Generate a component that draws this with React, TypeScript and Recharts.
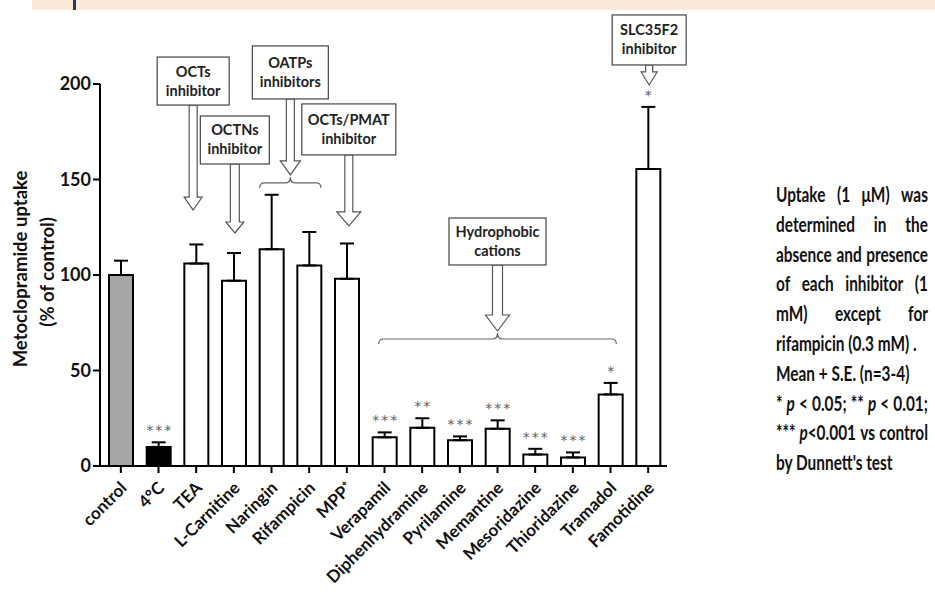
import type { ReactNode } from "react";
import { BarChart, Bar, XAxis, YAxis, ErrorBar, LabelList, Cell, ReferenceArea } from "recharts";

const categories = [
  "control",
  "4°C",
  "TEA",
  "L-Carnitine",
  "Naringin",
  "Rifampicin",
  "MPP⁺",
  "Verapamil",
  "Diphenhydramine",
  "Pyrilamine",
  "Memantine",
  "Mesoridazine",
  "Thioridazine",
  "Tramadol",
  "Famotidine",
];
const uptake = [100, 10, 106, 97, 113.5, 105, 98, 15, 20, 13.5, 19.5, 6, 4.5, 37.5, 155.5];
const sem = [7.5, 2.4, 10, 14.5, 28.5, 17.5, 18.5, 2.6, 5, 2, 4.4, 3, 2.6, 6, 32.5];
const significance = ["", "***", "", "", "", "", "", "***", "**", "***", "***", "***", "***", "*", "*"];
const yTicks = [0, 50, 100, 150, 200];

const data = categories.map((name, i) => ({
  name,
  uptake: uptake[i],
  err: [0, sem[i]],
  sig: significance[i],
}));

const FONT = "Lato, 'Open Sans', sans-serif";

type Note = {
  x1: string;
  x2: string;
  at: number;
  brace?: number; // inset of the brace ends, if there is one
  dx: number;
  boxW: number;
  boxH: number;
  len: number;
  hw: number;
  hh: number;
  sw: number;
  lines: string[];
};

const notes: Note[] = [
  { x1: "TEA", x2: "TEA", at: 134, dx: -3, boxW: 72, boxH: 48, len: 105, hw: 9, hh: 13, sw: 4, lines: ["OCTs", "inhibitor"] },
  { x1: "L-Carnitine", x2: "L-Carnitine", at: 122, dx: 1, boxW: 69, boxH: 48, len: 69, hw: 9, hh: 11, sw: 4.5, lines: ["OCTNs", "inhibitor"] },
  { x1: "Naringin", x2: "Rifampicin", at: 148.2, brace: 7, dx: 0, boxW: 76, boxH: 53, len: 76, hw: 10, hh: 14, sw: 4, lines: ["OATPs", "inhibitors"] },
  { x1: "MPP⁺", x2: "MPP⁺", at: 125.7, dx: 2, boxW: 94, boxH: 51, len: 71, hw: 12, hh: 14, sw: 4, lines: ["OCTs/PMAT", "inhibitor"] },
  { x1: "Verapamil", x2: "Tramadol", at: 66.5, brace: 13, dx: 0, boxW: 97, boxH: 47, len: 66, hw: 12, hh: 16, sw: 5, lines: ["Hydrophobic", "cations"] },
  { x1: "Famotidine", x2: "Famotidine", at: 199.5, dx: 1, boxW: 74, boxH: 50, len: 20, hw: 8, hh: 13, sw: 3.5, lines: ["SLC35F2", "inhibitor"] },
];

const noteShape = (n: Note) => (p: any) => {
  const { x, y, width } = p;
  const ax = x + width / 2 + n.dx;
  let tip = y;
  let brace = null;
  if (n.brace != null) {
    const l = x + n.brace;
    const r = x + width - n.brace;
    brace = (
      <path
        d={`M${l},${y + 5} Q${l},${y} ${l + 5},${y} L${ax - 5},${y} Q${ax},${y} ${ax},${y - 6} Q${ax},${y} ${ax + 5},${y} L${r - 5},${y} Q${r},${y} ${r},${y + 5}`}
        fill="none"
        stroke="#666"
        strokeWidth={1.2}
      />
    );
    tip = y - 8;
  }
  const bottom = tip - n.len;
  const head = tip - n.hh;
  const pts = [
    [ax, tip],
    [ax - n.hw, head],
    [ax - n.sw, head],
    [ax - n.sw, bottom],
    [ax + n.sw, bottom],
    [ax + n.sw, head],
    [ax + n.hw, head],
  ]
    .map((q) => q.join(","))
    .join(" ");
  const top = bottom - n.boxH;
  return (
    <g>
      {brace}
      <polygon points={pts} fill="#fff" stroke="#555" strokeWidth={1.2} />
      <rect x={ax - n.boxW / 2} y={top} width={n.boxW} height={n.boxH} fill="#fff" stroke="#444" strokeWidth={1.2} />
      {n.lines.map((t, i) => (
        <text
          key={t}
          x={ax}
          y={top + n.boxH / 2 + (i - 0.5) * 19 + 5}
          textAnchor="middle"
          fontFamily={FONT}
          fontWeight={700}
          fontSize={14.5}
          fill="#222"
        >
          {t}
        </text>
      ))}
    </g>
  );
};

const SigLabel = (props: any) => {
  const { index, value } = props;
  if (!value) return null;
  const vb = props.viewBox ?? props;
  const { x, y, width, height } = vb;
  const perUnit = height / uptake[index];
  const capY = y - sem[index] * perUnit;
  return (
    <text
      x={x + width / 2 + 1}
      y={capY - 7}
      textAnchor="middle"
      fontFamily="'DejaVu Sans', sans-serif"
      fontSize={14}
      letterSpacing={2}
      fill="#606060"
    >
      {value}
    </text>
  );
};

const XTick = (props: any) => {
  const { x, y, payload } = props;
  return (
    <text
      transform={`translate(${x + 7},${y + 14}) rotate(-45)`}
      textAnchor="end"
      fontFamily={FONT}
      fontWeight={700}
      fontSize={17}
      fill="#111"
    >
      {payload.value}
    </text>
  );
};

// one line of the side note; justified lines spread their words over the full width
const Line = ({ words, spread }: { words: ReactNode[]; spread?: boolean }) =>
  spread ? (
    <div style={{ display: "flex", justifyContent: "space-between", columnGap: 5 }}>
      {words.map((w, i) => (
        <span key={i}>{w}</span>
      ))}
    </div>
  ) : (
    <div>{words}</div>
  );

const SQUEEZE = 0.77;

export default function App() {
  return (
    <div style={{ position: "relative", width: 935, height: 592, background: "#fff" }}>
      <style>{`body{margin:0}`}</style>
      <div style={{ position: "absolute", left: 32, top: 0, width: 903, height: 10, background: "#fde9d9" }} />
      <div style={{ position: "absolute", left: 73, top: 0, width: 3, height: 10, background: "#1f3864" }} />
      <BarChart
        width={935}
        height={592}
        data={data}
        margin={{ top: 84, right: 268, bottom: 26, left: 40 }}
        barSize={24}
      >
        <XAxis
          dataKey="name"
          height={100}
          interval={0}
          padding={{ left: 2, right: 0 }}
          axisLine={{ stroke: "#000", strokeWidth: 2 }}
          tickLine={{ stroke: "#000", strokeWidth: 2 }}
          tickSize={7}
          tick={<XTick />}
        />
        <YAxis
          width={60}
          domain={[0, 200]}
          ticks={yTicks}
          interval={0}
          axisLine={{ stroke: "#000", strokeWidth: 2 }}
          tickLine={{ stroke: "#000", strokeWidth: 2 }}
          tickSize={7}
          tickMargin={2}
          tick={{ fill: "#111", fontSize: 18, fontWeight: 700, fontFamily: FONT }}
        />
        {notes.map((n) => (
          <ReferenceArea
            key={n.lines[0]}
            x1={n.x1}
            x2={n.x2}
            y1={n.at - 1}
            y2={n.at}
            ifOverflow="visible"
            shape={noteShape(n)}
          />
        ))}
        <Bar dataKey="uptake" stroke="#000" strokeWidth={2} isAnimationActive={false}>
          {data.map((d, i) => (
            <Cell key={d.name} fill={i === 0 ? "#a6a6a8" : i === 1 ? "#000" : "#fff"} />
          ))}
          <ErrorBar dataKey="err" direction="y" width={7} stroke="#000" strokeWidth={2} isAnimationActive={false} />
          <LabelList dataKey="sig" content={<SigLabel />} />
        </Bar>
      </BarChart>
      <svg style={{ position: "absolute", left: 0, top: 0 }} width={80} height={592}>
        <g fontFamily={FONT} fontWeight={700} fontSize={18.5} fill="#111" textAnchor="middle">
          <text transform="translate(20,269) rotate(-90)" dominantBaseline="central">
            Metoclopramide uptake
          </text>
          <text transform="translate(47,272) rotate(-90)" dominantBaseline="central">
            (% of control)
          </text>
        </g>
      </svg>
      <div
        style={{
          position: "absolute",
          left: 776,
          top: 180,
          width: 152 / SQUEEZE,
          transform: `scaleX(${SQUEEZE})`,
          transformOrigin: "0 0",
          fontFamily: FONT,
          fontWeight: 700,
          fontSize: 20,
          lineHeight: "29.8px",
          color: "#111",
          whiteSpace: "nowrap",
        }}
      >
        <Line spread words={["Uptake", "(1", "μM)", "was"]} />
        <Line spread words={["determined", "in", "the"]} />
        <Line spread words={["absence", "and", "presence"]} />
        <Line spread words={["of", "each", "inhibitor", "(1"]} />
        <Line spread words={["mM)", "except", "for"]} />
        <Line words={["rifampicin (0.3 mM) ."]} />
        <Line words={["Mean + S.E. (n=3-4)"]} />
        <Line
          spread
          words={["*", <i>p</i>, "<", "0.05;", "**", <i>p</i>, "<", "0.01;"]}
        />
        <Line
          spread
          words={[
            <>
              *** <i>p</i>&lt;0.001
            </>,
            "vs",
            "control",
          ]}
        />
        <Line words={["by Dunnett's test"]} />
      </div>
    </div>
  );
}
